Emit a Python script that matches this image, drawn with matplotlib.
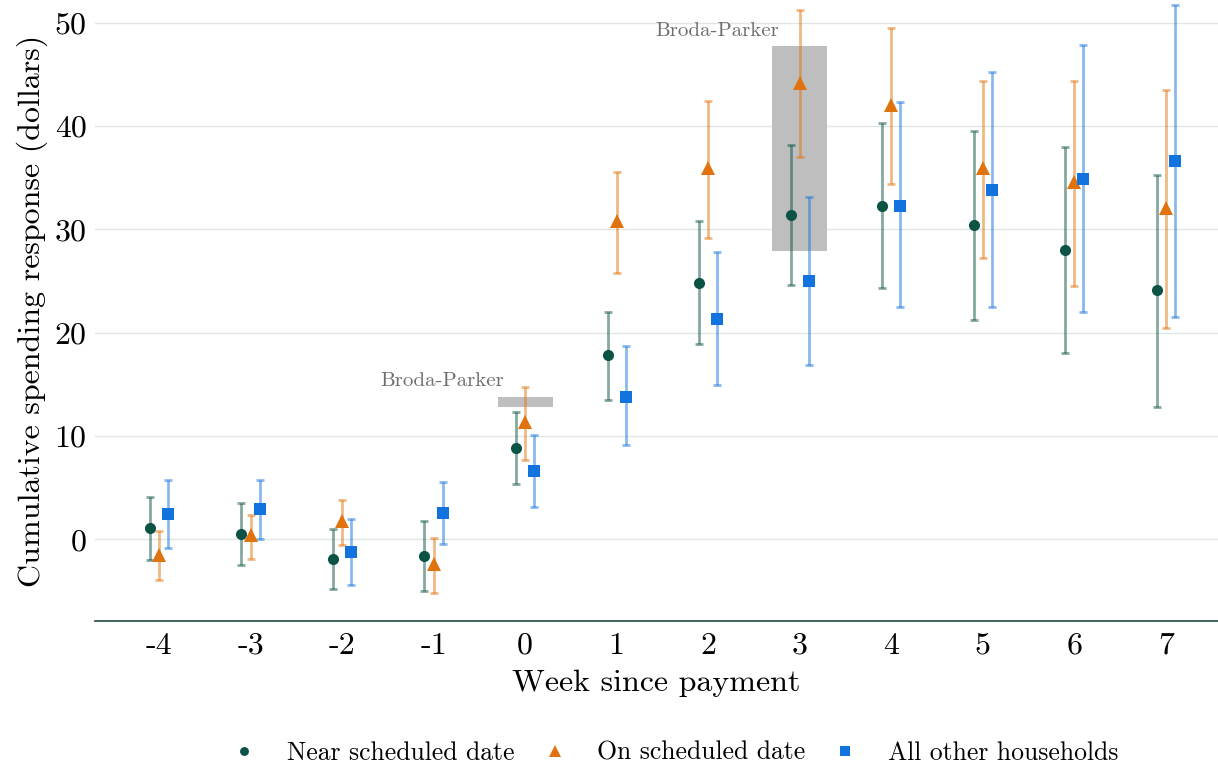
import matplotlib.pyplot as plt
from matplotlib.lines import Line2D
import numpy as np

plt.rcParams["font.family"] = "serif"
plt.rcParams["font.serif"] = ["cmr10", "DejaVu Serif"]
plt.rcParams["axes.unicode_minus"] = False
plt.rcParams["mathtext.fontset"] = "cm"

weeks = [-4, -3, -2, -1, 0, 1, 2, 3, 4, 5, 6, 7]
week_labels = ["-4", "-3", "-2", "-1", "0", "1", "2", "3", "4", "5", "6", "7"]

near_est = [1.1, 0.5, -1.9, -1.6, 8.8, 17.8, 24.8, 31.4, 32.3, 30.4, 28.0, 24.1]
near_lo = [-2.0, -2.5, -4.8, -5.0, 5.4, 13.5, 18.9, 24.6, 24.3, 21.2, 18.0, 12.8]
near_hi = [4.1, 3.5, 1.0, 1.8, 12.3, 22.0, 30.8, 38.2, 40.3, 39.5, 38.0, 35.3]

on_est = [-1.5, 0.4, 1.8, -2.4, 11.4, 30.8, 35.9, 44.2, 42.0, 35.9, 34.6, 32.1]
on_lo = [-3.9, -1.9, -0.5, -5.2, 7.7, 25.8, 29.2, 37.0, 34.4, 27.2, 24.5, 20.5]
on_hi = [0.8, 2.4, 3.8, 0.1, 14.7, 35.6, 42.4, 51.2, 49.5, 44.4, 44.4, 43.5]

other_est = [2.5, 2.9, -1.2, 2.6, 6.6, 13.8, 21.3, 25.0, 32.3, 33.8, 34.9, 36.6]
other_lo = [-0.8, 0.0, -4.4, -0.4, 3.1, 9.1, 14.9, 16.9, 22.5, 22.5, 22.0, 21.5]
other_hi = [5.7, 5.7, 2.0, 5.6, 10.1, 18.7, 27.8, 33.1, 42.3, 45.2, 47.8, 51.7]

# Broda-Parker benchmark ranges: (week, low, high)
bp_week = [0, 3]
bp_lo = [12.8, 27.9]
bp_hi = [13.8, 47.7]

series = [
    ("Near scheduled date", near_est, near_lo, near_hi, "#0b5345", "o", 8, -0.1),
    ("On scheduled date", on_est, on_lo, on_hi, "#e0730d", "^", 10, 0.0),
    ("All other households", other_est, other_lo, other_hi, "#1273de", "s", 8.5, 0.1),
]

fig = plt.figure(figsize=(12.18, 7.65), dpi=100)
ax = fig.add_axes([95 / 1218, 144 / 765, 1123 / 1218, 621 / 765])

for wk, lo, hi in zip(bp_week, bp_lo, bp_hi):
    ax.fill_between([wk - 0.3, wk + 0.3], lo, hi, color="#bebebe",
                    linewidth=0, zorder=1)
    ax.text(wk - 0.23, hi + 1.5, "Broda-Parker", ha="right", va="center",
            fontsize=15, color="#6e6e6e")

handles = []
for label, est, lo, hi, color, marker, ms, offset in series:
    x = np.array(weeks) + offset
    est = np.array(est)
    err = [est - np.array(lo), np.array(hi) - est]
    ax.errorbar(x, est, yerr=err, fmt="none", ecolor=color, alpha=0.5,
                elinewidth=2, capsize=3, capthick=2, zorder=2)
    ax.plot(x, est, linestyle="none", marker=marker, markersize=ms,
            color=color, markeredgewidth=0, zorder=3)
    handles.append(Line2D([], [], linestyle="none", marker=marker,
                          markersize=ms * 0.8, color=color,
                          markeredgewidth=0, label=label))

ax.set_xlim(-4.7, 7.57)
ax.set_ylim(-7.9, 52.2)
ax.set_xticks(weeks)
ax.set_xticklabels(week_labels)
ax.set_yticks([0, 10, 20, 30, 40, 50])
ax.tick_params(axis="x", length=0, labelsize=23, pad=8)
ax.tick_params(axis="y", length=0, labelsize=23, pad=6)
ax.grid(axis="y", color="#e0e6e4", linewidth=1)
ax.set_axisbelow(True)

for side in ["top", "right", "left"]:
    ax.spines[side].set_visible(False)
ax.spines["bottom"].set_color("#1c4a42")
ax.spines["bottom"].set_linewidth(1.2)

ax.set_xlabel("Week since payment", fontsize=23, labelpad=7)
ax.set_ylabel("Cumulative spending response (dollars)", fontsize=23,
              labelpad=5)

fig.legend(handles=handles, loc="center", bbox_to_anchor=(0.549, 0.016),
           ncol=3, frameon=False, fontsize=18.5, handletextpad=0.67,
           columnspacing=0.55)

fig.savefig("out.png", dpi=100)
